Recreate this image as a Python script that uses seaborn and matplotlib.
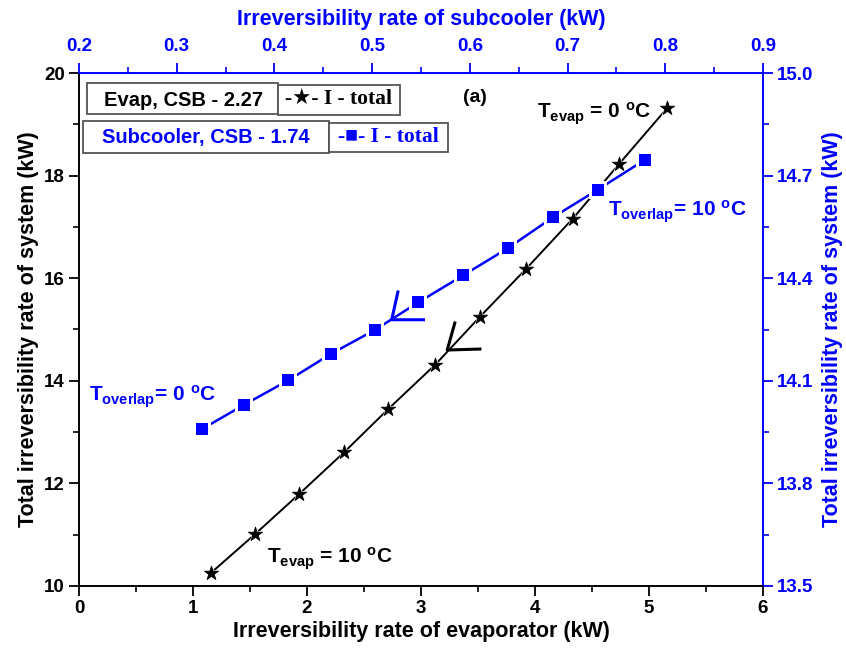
import matplotlib
matplotlib.use("Agg")
import matplotlib.pyplot as plt
import seaborn as sns
import pandas as pd
from matplotlib.patches import Rectangle
from matplotlib.ticker import MultipleLocator

# ---------------- data ----------------
evap_irr = [1.155, 1.544, 1.930, 2.327, 2.713, 3.123, 3.518, 3.921, 4.331, 4.739, 5.161]
evap_total = [10.25, 11.01, 11.79, 12.61, 13.45, 14.31, 15.25, 16.18, 17.16, 18.23, 19.32]
sub_irr = [0.326, 0.369, 0.414, 0.458, 0.503, 0.547, 0.593, 0.639, 0.685, 0.731, 0.779]
sub_total = [13.959, 14.030, 14.101, 14.179, 14.249, 14.329, 14.408, 14.488, 14.578, 14.659, 14.746]

bottom_ticks = [0, 1, 2, 3, 4, 5, 6]
left_ticks = [10, 12, 14, 16, 18, 20]
top_ticks = [0.2, 0.3, 0.4, 0.5, 0.6, 0.7, 0.8, 0.9]
right_ticks = [13.5, 13.8, 14.1, 14.4, 14.7, 15.0]

df_e = pd.DataFrame({"x": evap_irr, "y": evap_total})
df_s = pd.DataFrame({"x": sub_irr, "y": sub_total})

sns.set_theme(style="white")
plt.rcParams["font.family"] = ["Liberation Sans", "DejaVu Sans"]
plt.rcParams["font.weight"] = "bold"
plt.rcParams["mathtext.fontset"] = "custom"
plt.rcParams["mathtext.rm"] = "Liberation Sans:bold"
plt.rcParams["mathtext.bf"] = "Liberation Sans:bold"
plt.rcParams["mathtext.it"] = "Liberation Sans:bold"

BLUE = "#0000ff"
W, H = 846, 650
fig = plt.figure(figsize=(W / 100, H / 100), dpi=100)
L, R, T, B = 79, 763, 73, 586
pos = [L / W, 1 - B / H, (R - L) / W, (B - T) / H]
ax = fig.add_axes(pos)
ax2 = fig.add_axes(pos, frameon=False)

# --- evaporator series (bottom/left axes) ---
sns.lineplot(data=df_e, x="x", y="y", ax=ax, color="black", lw=1.4, zorder=2)
sns.scatterplot(data=df_e, x="x", y="y", ax=ax, marker="*", s=230, color="white",
                edgecolor="white", linewidth=0, zorder=3)
sns.scatterplot(data=df_e, x="x", y="y", ax=ax, marker="*", s=115, color="black",
                edgecolor="black", linewidth=0.6, zorder=4)

# --- subcooler series (top/right axes) ---
sns.lineplot(data=df_s, x="x", y="y", ax=ax2, color=BLUE, lw=1.8, zorder=2)
sns.scatterplot(data=df_s, x="x", y="y", ax=ax2, marker="s", s=150, color="white",
                edgecolor="white", linewidth=0, zorder=3)
sns.scatterplot(data=df_s, x="x", y="y", ax=ax2, marker="s", s=72, color=BLUE,
                edgecolor=BLUE, linewidth=0, zorder=4)

# --- axes setup ---
ax.set_xlim(0, 6)
ax.set_ylim(10, 20)
ax.set_xticks(bottom_ticks)
ax.set_yticks(left_ticks)
ax.xaxis.set_minor_locator(MultipleLocator(0.5))
ax.yaxis.set_minor_locator(MultipleLocator(1))
ax.set_xticklabels([str(v) for v in bottom_ticks])
ax.set_yticklabels([str(v) for v in left_ticks])
ax.tick_params(axis="both", which="major", direction="out", length=7, width=1.3,
               labelsize=13.5, colors="black", pad=3, bottom=True, left=True, top=False, right=False)
ax.tick_params(axis="both", which="minor", direction="out", length=4, width=1.2,
               bottom=True, left=True, top=False, right=False, colors="black")
for lab in ax.get_xticklabels() + ax.get_yticklabels():
    lab.set_fontweight("bold")
ax.set_xlabel("Irreversibility rate of evaporator (kW)", fontsize=15.5, fontweight="bold",
              color="black", labelpad=3)
ax.set_ylabel("Total irreversibility rate of system (kW)", fontsize=15.5, fontweight="bold",
              color="black", labelpad=4)
for side in ["left", "bottom"]:
    ax.spines[side].set_color("black")
    ax.spines[side].set_linewidth(1.4)
for side in ["top", "right"]:
    ax.spines[side].set_color(BLUE)
    ax.spines[side].set_linewidth(1.4)

ax2.set_xlim(0.2, 0.9)
ax2.set_ylim(13.5, 15.0)
ax2.xaxis.tick_top()
ax2.yaxis.tick_right()
ax2.xaxis.set_label_position("top")
ax2.yaxis.set_label_position("right")
ax2.set_xticks(top_ticks)
ax2.set_yticks(right_ticks)
ax2.set_xticklabels([f"{v:.1f}" for v in top_ticks])
ax2.set_yticklabels([f"{v:.1f}" for v in right_ticks])
ax2.xaxis.set_minor_locator(MultipleLocator(0.05))
ax2.yaxis.set_minor_locator(MultipleLocator(0.15))
ax2.tick_params(axis="x", which="major", direction="out", length=7, width=1.3,
                labelsize=13.5, colors=BLUE, pad=6, top=True, bottom=False)
ax2.tick_params(axis="y", which="major", direction="out", length=7, width=1.3,
                labelsize=13.5, colors=BLUE, pad=3, right=True, left=False)
ax2.tick_params(axis="both", which="minor", direction="out", length=4, width=1.2,
                colors=BLUE, top=True, right=True, bottom=False, left=False)
for lab in ax2.get_xticklabels() + ax2.get_yticklabels():
    lab.set_fontweight("bold")
ax2.set_xlabel("Irreversibility rate of subcooler (kW)", fontsize=15.5, fontweight="bold",
               color=BLUE, labelpad=9)
ax2.set_ylabel("Total irreversibility rate of system (kW)", fontsize=15.5, fontweight="bold",
               color=BLUE, labelpad=6, rotation=90)
ax.grid(False)
ax2.grid(False)

# --- annotations ---
ax.text(4.015, 19.12, r"T$_{\mathbf{evap}}$ = 0 $^{\mathbf{o}}$C", fontsize=15, fontweight="bold",
        color="black", ha="left", va="baseline")
ax.text(1.652, 10.44, r"T$_{\mathbf{evap}}$ = 10 $^{\mathbf{o}}$C", fontsize=15, fontweight="bold",
        color="black", ha="left", va="baseline")
ax.text(4.638, 17.20, r"T$_{\mathbf{overlap}}$= 10 $^{\mathbf{o}}$C", fontsize=15, fontweight="bold",
        color=BLUE, ha="left", va="baseline")
ax.text(0.09, 13.59, r"T$_{\mathbf{overlap}}$= 0 $^{\mathbf{o}}$C", fontsize=15, fontweight="bold",
        color=BLUE, ha="left", va="baseline")
ax.text(3.47, 19.53, "(a)", fontsize=14, fontweight="bold", color="black", ha="center", va="center")

# direction arrows (open V heads)
ax.plot([2.80, 2.743, 3.035], [15.76, 15.19, 15.19], color=BLUE, lw=2.2, zorder=5,
        solid_capstyle="butt")
ax.plot([3.30, 3.23, 3.53], [15.155, 14.60, 14.62], color="black", lw=2.2, zorder=5,
        solid_capstyle="butt")

# --- legend boxes (figure pixel coords) ---
def px_box(x0, y0, x1, y1):
    r = Rectangle((x0 / W, 1 - y1 / H), (x1 - x0) / W, (y1 - y0) / H, transform=fig.transFigure,
                  facecolor="white", edgecolor="#555555", lw=1.3, zorder=10)
    fig.patches.append(r)

px_box(86.7, 83.3, 277.7, 114.3)
px_box(277.7, 85, 400, 115)
px_box(83.3, 121, 329, 153.3)
px_box(329, 123.3, 447.7, 151.7)

fig.text(184 / W, 1 - 100 / H, "Evap, CSB - 2.27", fontsize=14.5, fontweight="bold", color="black",
         ha="center", va="center", zorder=11)
fig.text(338.5 / W, 1 - 100 / H, "-\u2605- I - total", fontsize=15.5, fontweight="bold", color="black",
         ha="center", va="center", zorder=11, family=["Liberation Serif", "DejaVu Sans"])
fig.text(206 / W, 1 - 137.5 / H, "Subcooler, CSB - 1.74", fontsize=14.5, fontweight="bold", color=BLUE,
         ha="center", va="center", zorder=11)
fig.text(388.5 / W, 1 - 137.5 / H, "-\u25a0- I - total", fontsize=15.5, fontweight="bold", color=BLUE,
         ha="center", va="center", zorder=11, family=["Liberation Serif", "DejaVu Sans"])

fig.savefig("out.png", dpi=100)
